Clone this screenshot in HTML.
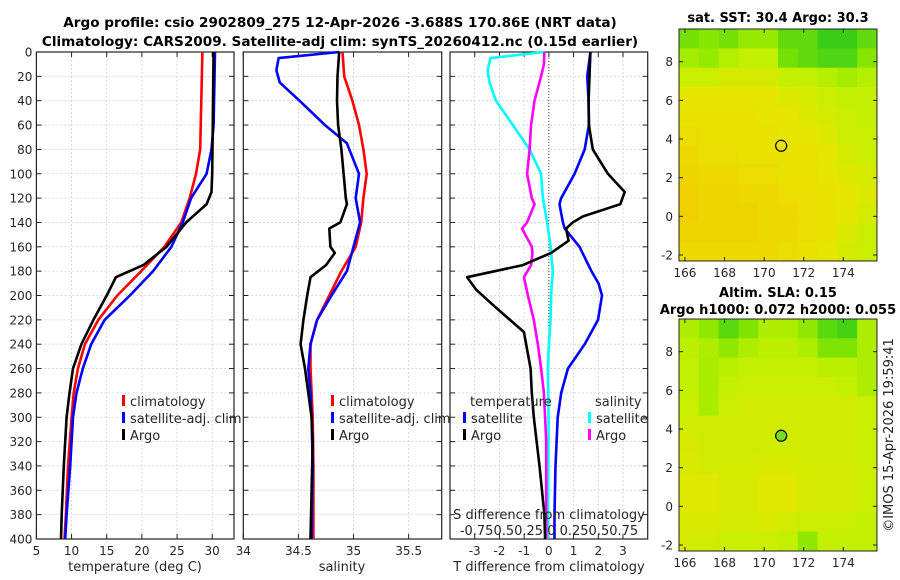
<!DOCTYPE html>
<html><head><meta charset="utf-8"><style>
body{margin:0;background:#fff;}
svg{display:block;font-family:"DejaVu Sans","Liberation Sans",sans-serif;}
</style></head><body>
<svg id="fig" width="900" height="580" viewBox="0 0 900 580">
<text x="340" y="27" text-anchor="middle" font-size="13.6" font-weight="bold">Argo profile: csio 2902809_275 12-Apr-2026 -3.688S 170.86E (NRT data)</text>
<text x="340" y="46" text-anchor="middle" font-size="13.6" font-weight="bold">Climatology: CARS2009. Satellite-adj clim: synTS_20260412.nc (0.15d earlier)</text>
<text x="778" y="22" text-anchor="middle" font-size="13" font-weight="bold">sat. SST: 30.4 Argo: 30.3</text>
<text x="778" y="297" text-anchor="middle" font-size="13" font-weight="bold">Altim. SLA: 0.15</text>
<text x="778" y="314" text-anchor="middle" font-size="13" font-weight="bold">Argo h1000: 0.072 h2000: 0.055</text>
<text transform="translate(893,435) rotate(-90)" text-anchor="middle" font-size="13" fill="#222">©IMOS 15-Apr-2026 19:59:41</text>
<g id="g"></g>
</svg>
<script>
// ---------- data ----------
const depthTicks=[0,20,40,60,80,100,120,140,160,180,200,220,240,260,280,300,320,340,360,380,400];
// panel 1 temperature
const tClimDepth=[0,80,100,120,140,160,180,200,220,240,260,280,300,340,380,400];
const tClimVal=[28.6,28.3,27.7,26.8,25.6,23.2,19.9,16.5,13.8,11.9,10.9,10.3,10.0,9.5,9.2,9.0];
const tSatDepth=[0,60,80,100,120,140,160,180,200,220,240,260,280,300,340,380,400];
const tSatVal=[30.4,30.2,29.9,29.2,27.0,25.8,24.2,21.6,18.3,14.7,12.8,11.6,10.7,10.2,9.8,9.3,9.1];
const tArgoDepth=[0,100,115,125,140,160,175,185,200,220,240,260,280,300,340,380,400];
const tArgoVal=[30.2,30.0,29.9,29.2,26.3,23.5,20.2,16.3,15.0,13.1,11.4,10.2,9.7,9.3,8.9,8.6,8.5];
const tTicks=[5,10,15,20,25,30];
// panel 2 salinity
const sClimDepth=[0,20,40,60,80,100,120,140,160,180,200,220,240,260,280,300,340,400];
const sClimVal=[34.90,34.915,34.99,35.05,35.09,35.12,35.09,35.07,35.02,34.89,34.78,34.67,34.61,34.61,34.62,34.63,34.636,34.636];
const sSatDepth=[0,5,15,25,40,60,75,100,120,140,160,180,200,220,240,260,280,300,340,400];
const sSatVal=[34.87,34.32,34.30,34.33,34.51,34.74,34.94,35.05,35.02,35.06,35.0,34.94,34.80,34.67,34.61,34.59,34.61,34.62,34.63,34.62];
const sArgoDepth=[0,20,40,60,80,100,120,125,140,145,160,165,175,185,200,220,240,260,280,300,320,400];
const sArgoVal=[34.87,34.855,34.85,34.86,34.89,34.91,34.93,34.94,34.88,34.78,34.79,34.83,34.75,34.61,34.58,34.545,34.52,34.56,34.59,34.62,34.63,34.61];
const sTicks=[34,34.5,35,35.5];
// panel 3 differences
const dTSatDepth=[0,20,40,60,80,100,120,125,140,145,150,160,180,190,200,220,240,260,280,300,340,380,400];
const dTSatVal=[1.68,1.55,1.61,1.62,1.45,1.04,0.5,0.43,0.57,0.64,0.84,1.24,1.72,2.01,2.15,1.99,1.45,0.77,0.5,0.36,0.27,0.23,0.23];
const dTArgoDepth=[0,40,60,80,100,115,125,135,140,145,155,165,175,185,195,210,230,260,280,300,340,380,400];
const dTArgoVal=[1.68,1.61,1.62,1.78,2.39,3.07,2.89,1.38,0.97,0.7,0.8,0.09,-1.05,-3.31,-2.95,-2.14,-1.01,-0.74,-0.69,-0.61,-0.38,-0.18,-0.15];
const dSSatDepth=[0,5,15,25,40,60,80,100,120,140,160,180,200,220,240,260,300,400];
const dSSatVal=[-0.045,-0.59,-0.62,-0.60,-0.535,-0.365,-0.195,-0.078,-0.06,-0.018,0.018,0.04,0.023,0.017,0,-0.01,-0.003,-0.01];
const dSArgoDepth=[0,10,20,40,60,80,100,120,125,140,145,160,165,175,185,200,220,240,260,280,300,320,400];
const dSArgoVal=[-0.045,-0.05,-0.078,-0.145,-0.18,-0.195,-0.22,-0.172,-0.145,-0.22,-0.272,-0.172,-0.165,-0.18,-0.252,-0.212,-0.152,-0.112,-0.078,-0.05,-0.038,-0.027,-0.027];
const dTTicks=[-3,-2,-1,0,1,2,3];
// maps (normalized colour values, rows north->south, cols west->east)
const sstGrid=[
[0.8,0.75,0.8,0.7,0.7,0.85,0.85,0.95,0.95,0.85],
[0.65,0.7,0.6,0.55,0.55,0.8,0.85,0.9,0.9,0.75],
[0.5,0.5,0.45,0.45,0.45,0.55,0.55,0.6,0.65,0.6],
[0.35,0.35,0.35,0.35,0.35,0.4,0.45,0.5,0.55,0.55],
[0.3,0.3,0.3,0.3,0.35,0.35,0.4,0.45,0.5,0.55],
[0.25,0.28,0.3,0.3,0.3,0.35,0.35,0.4,0.5,0.5],
[0.2,0.25,0.25,0.3,0.3,0.3,0.3,0.35,0.45,0.5],
[0.15,0.2,0.2,0.25,0.25,0.3,0.3,0.35,0.4,0.45],
[0.1,0.15,0.15,0.2,0.2,0.25,0.25,0.3,0.35,0.4],
[0.1,0.15,0.15,0.15,0.2,0.2,0.25,0.3,0.35,0.45],
[0.15,0.15,0.15,0.15,0.2,0.2,0.25,0.3,0.4,0.5],
[0.2,0.2,0.2,0.2,0.2,0.25,0.3,0.35,0.45,0.5]];
const slaGrid=[
[0.62,0.72,0.87,0.77,0.62,0.62,0.72,0.87,0.92,0.62],
[0.57,0.62,0.72,0.62,0.57,0.57,0.62,0.77,0.77,0.62],
[0.55,0.64,0.58,0.55,0.55,0.55,0.55,0.58,0.58,0.62],
[0.55,0.64,0.55,0.5,0.5,0.5,0.5,0.5,0.55,0.62],
[0.5,0.64,0.5,0.48,0.48,0.48,0.48,0.48,0.48,0.5],
[0.48,0.48,0.48,0.48,0.48,0.48,0.48,0.48,0.48,0.5],
[0.44,0.48,0.48,0.48,0.48,0.48,0.48,0.48,0.48,0.5],
[0.42,0.46,0.46,0.46,0.42,0.42,0.46,0.46,0.46,0.5],
[0.38,0.38,0.44,0.44,0.38,0.38,0.44,0.46,0.46,0.5],
[0.38,0.38,0.44,0.44,0.38,0.38,0.44,0.46,0.46,0.5],
[0.42,0.42,0.46,0.46,0.42,0.46,0.5,0.5,0.5,0.55],
[0.46,0.46,0.5,0.5,0.5,0.55,0.72,0.55,0.55,0.55]];
const lonTicks=[166,168,170,172,174];
const latTicks=[-2,0,2,4,6,8];
const floatLon=170.86, floatLat=3.65;

// ---------- drawing ----------
const NS='http://www.w3.org/2000/svg';
const G=document.getElementById('g');
function mk(tag,attrs,parent){const e=document.createElementNS(NS,tag);for(const k in attrs)e.setAttribute(k,attrs[k]);(parent||G).appendChild(e);return e;}
function txt(x,y,s,size,anchor,parent){const t=mk('text',{x:x,y:y,'font-size':size||12,'text-anchor':anchor||'middle',fill:'#262626'},parent);t.textContent=s;return t;}

const TOP=52,BOT=539;
const yD=d=>TOP+(d/400)*(BOT-TOP);

function panel(name,x0,x1,xmin,xmax,xticks,showY){
  const g=mk('g',{});
  
  
  const xs=v=>x0+(v-xmin)/(xmax-xmin)*(x1-x0);
  depthTicks.forEach(d=>{
    const l=mk('line',{x1:x0,x2:x1,y1:yD(d),y2:yD(d),stroke:'#c8cfea','stroke-width':0.8,'stroke-dasharray':'2,2'},g);
    
    
    mk('line',{x1:x0,x2:x0+5,y1:yD(d),y2:yD(d),stroke:'#222'},g);
    mk('line',{x1:x1-5,x2:x1,y1:yD(d),y2:yD(d),stroke:'#222'},g);
    if(showY){const t=txt(x0-4,yD(d)+4.5,String(d),12,'end',g);
      
      }
  });
  xticks.forEach(v=>{
    const X=xs(v);
    const l=mk('line',{x1:X,x2:X,y1:TOP,y2:BOT,stroke:'#c8cfea','stroke-width':0.8,'stroke-dasharray':'2,2'},g);
    
    
    mk('line',{x1:X,x2:X,y1:BOT-5,y2:BOT,stroke:'#222'},g);
    mk('line',{x1:X,x2:X,y1:TOP,y2:TOP+5,stroke:'#222'},g);
    const t=txt(X,BOT+16,String(v),12,'middle',g);
    
    
  });
  const r=mk('rect',{x:x0,y:TOP,width:x1-x0,height:BOT-TOP,fill:'none',stroke:'#222','stroke-width':1.2},g);
  
  
  return {g,xs};
}
function line(p,depths,vals,color,name,conv){
  const pts=depths.map((d,i)=>p.xs(conv?conv(vals[i]):vals[i]).toFixed(1)+','+yD(d).toFixed(1)).join(' ');
  const l=mk('polyline',{points:pts,fill:'none',stroke:color,'stroke-width':2.6,'stroke-linejoin':'round'},p.g);
  
  
}
function legend(p,x,y,items){
  items.forEach((it,i)=>{
    const r=mk('rect',{x:x,y:y+i*17-11,width:3,height:11,fill:it[1]},p.g);
    
    
    const t=txt(x+8,y+i*17,it[0],13,'start',p.g);
    
    
  });
}

const p1=panel('temperature-panel',36.4,234,5,33.1,tTicks,true);
line(p1,tClimDepth,tClimVal,'#ff0000','temp-climatology-line');
line(p1,tSatDepth,tSatVal,'#0000ff','temp-satellite-line');
line(p1,tArgoDepth,tArgoVal,'#000000','temp-argo-line');
legend(p1,122,406,[['climatology','#ff0000'],['satellite-adj. clim','#0000ff'],['Argo','#000']]);
let t=txt(135,571,'temperature (deg C)',13,'middle',p1.g);


const p2=panel('salinity-panel',243.3,441.7,34,35.8,sTicks,false);
line(p2,sClimDepth,sClimVal,'#ff0000','sal-climatology-line');
line(p2,sSatDepth,sSatVal,'#0000ff','sal-satellite-line');
line(p2,sArgoDepth,sArgoVal,'#000000','sal-argo-line');
legend(p2,331,406,[['climatology','#ff0000'],['satellite-adj. clim','#0000ff'],['Argo','#000']]);
t=txt(342,571,'salinity',13,'middle',p2.g);


const p3=panel('difference-panel',450,647.7,-4,4,dTTicks,false);
const zl=mk('line',{x1:p3.xs(0),x2:p3.xs(0),y1:TOP,y2:BOT,stroke:'#554433','stroke-width':1,'stroke-dasharray':'1,2'},p3.g);


const sConv=v=>v*4;
line(p3,dSSatDepth,dSSatVal,'#00ffff','sal-diff-satellite-line',sConv);
line(p3,dSArgoDepth,dSArgoVal,'#ff00ff','sal-diff-argo-line',sConv);
line(p3,dTSatDepth,dTSatVal,'#0000ff','temp-diff-satellite-line');
line(p3,dTArgoDepth,dTArgoVal,'#000000','temp-diff-argo-line');
t=txt(470,406,'temperature',13,'start',p3.g);

t=txt(595,406,'salinity',13,'start',p3.g);

legend(p3,463,423,[['satellite','#0000ff'],['Argo','#000']]);
legend(p3,588,423,[['satellite','#00ffff'],['Argo','#ff00ff']]);
t=txt(549,519,'S difference from climatology',13,'middle',p3.g);

t=txt(549,535,'-0.750.50.25 0 0.250.50.75',13,'middle',p3.g);

t=txt(549,571,'T difference from climatology',13,'middle',p3.g);


const stops=[[0,[245,200,0]],[0.33,[232,228,0]],[0.55,[195,240,0]],[0.75,[135,230,0]],[1,[40,200,30]]];
function cmap(v){for(let i=1;i<stops.length;i++){if(v<=stops[i][0]){const a=stops[i-1],b=stops[i],f=(v-a[0])/(b[0]-a[0]);return 'rgb('+a[1].map((c,k)=>Math.round(c+(b[1][k]-c)*f)).join(',')+')';}}return 'rgb(40,200,30)';}
function map(name,grid,top,bot,circleFill){
  const x0=679,x1=877,lon0=165.7,lon1=175.7,lat0=9.69,lat1=-2.31;
  const g=mk('g',{});
  
  
  const xs=l=>x0+(l-lon0)/(lon1-lon0)*(x1-x0);
  const ys=l=>top+(lat0-l)/(lat0-lat1)*(bot-top);
  const nr=grid.length,nc=grid[0].length;
  grid.forEach((row,i)=>row.forEach((v,j)=>{
    const la=lat0-(lat0-lat1)*i/nr, lo=lon0+(lon1-lon0)*j/nc;
    const c=mk('rect',{x:xs(lo),y:ys(la),width:(x1-x0)/nc+0.5,height:(bot-top)/nr+0.5,fill:cmap(v)},g);
    
    
  }));
  latTicks.forEach(l=>{
    mk('line',{x1:x0,x2:x0+4,y1:ys(l),y2:ys(l),stroke:'#222'},g);
    mk('line',{x1:x1-4,x2:x1,y1:ys(l),y2:ys(l),stroke:'#222'},g);
    const tt=txt(x0-6,ys(l)+4.5,String(l),12,'end',g);
    
    
  });
  lonTicks.forEach(l=>{
    mk('line',{x1:xs(l),x2:xs(l),y1:bot-4,y2:bot,stroke:'#222'},g);
    mk('line',{x1:xs(l),x2:xs(l),y1:top,y2:top+4,stroke:'#222'},g);
    const tt=txt(xs(l),bot+16,String(l),12,'middle',g);
    
    
  });
  const f=mk('rect',{x:x0,y:top,width:x1-x0,height:bot-top,fill:'none',stroke:'#222','stroke-width':1},g);
  
  
  const c=mk('circle',{cx:xs(floatLon),cy:ys(floatLat),r:5.5,fill:circleFill,stroke:'#000','stroke-width':1.2},g);
  
  
}
map('sst-map',sstGrid,29,261,'none');
map('sla-map',slaGrid,319,551,'#77dd22');
</script>
</body></html>
